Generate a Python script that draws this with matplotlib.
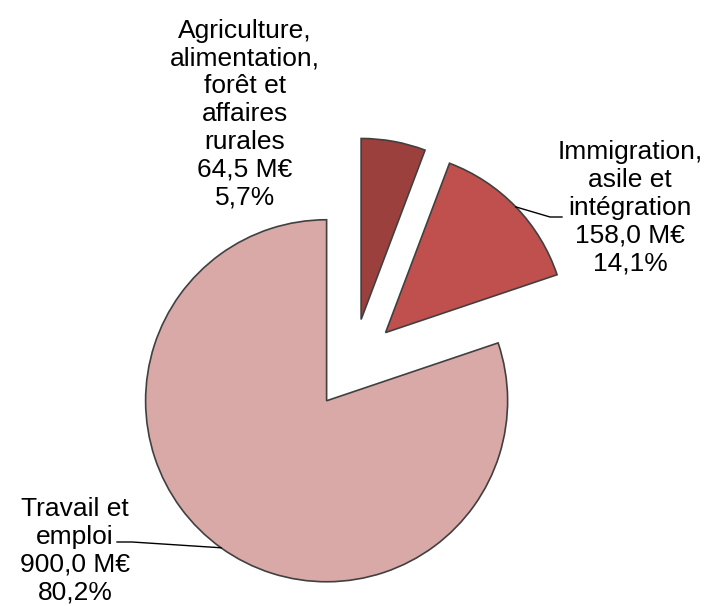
import matplotlib.pyplot as plt
import numpy as np

plt.rcParams['font.family'] = ['Liberation Sans', 'DejaVu Sans']

# data
categories = ['Agriculture,\nalimentation,\nforêt et\naffaires\nrurales',
              'Immigration,\nasile et\nintégration',
              'Travail et\nemploi']
amounts = [64.5, 158.0, 900.0]
amount_labels = ['64,5 M€', '158,0 M€', '900,0 M€']
pct_labels = ['5,7%', '14,1%', '80,2%']
colors = ['#9C403E', '#C0504D', '#D9A9A8']

# 1 data unit = pie radius = 181 px, pie centre at (353, 364) px
R = 181.0
cx, cy = 353.0, 364.0
W, H = 706, 606

def to_data(px, py):
    return (px - cx) / R, (cy - py) / R

fig = plt.figure(figsize=(7.06, 6.06), dpi=100)
ax = fig.add_axes([0, 0, 1, 1])
ax.set_aspect('equal')
ax.axis('off')

wedges, _ = ax.pie(amounts, colors=colors, startangle=90, counterclock=False,
                   explode=[0.25, 0.25, 0.25], radius=1,
                   wedgeprops=dict(edgecolor='#404040', linewidth=1.2))
ax.set_xlim(-cx / R, (W - cx) / R)
ax.set_ylim(-(H - cy) / R, cy / R)

label_pos = [(245, 114), (630, 208), (75, 551)]
for i, (px, py) in enumerate(label_pos):
    x, y = to_data(px, py)
    ax.text(x, y, categories[i] + '\n' + amount_labels[i] + '\n' + pct_labels[i],
            ha='center', va='center', fontsize=19, linespacing=1.2)

# leader lines from the middle of the arc
leaders = {1: [(550, 217), (562, 217)], 2: [(132, 542), (117, 542)]}
for i, pts in leaders.items():
    w = wedges[i]
    tm = np.deg2rad((w.theta1 + w.theta2) / 2)
    x0 = w.center[0] + w.r * np.cos(tm)
    y0 = w.center[1] + w.r * np.sin(tm)
    xs = [x0] + [to_data(*p)[0] for p in pts]
    ys = [y0] + [to_data(*p)[1] for p in pts]
    ax.plot(xs, ys, color='black', lw=1.0)

fig.savefig('out.png', dpi=100)
